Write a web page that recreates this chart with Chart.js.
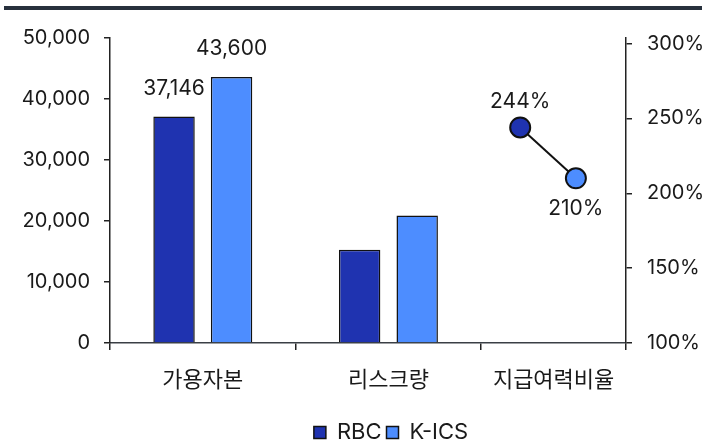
<!DOCTYPE html>
<html lang="ko">
<head>
<meta charset="utf-8">
<title>RBC vs K-ICS</title>
<script src="https://cdn.jsdelivr.net/npm/chart.js@4.4.1/dist/chart.umd.min.js"></script>
<style>
  html, body { margin: 0; padding: 0; background: #fff; }
  .wrap { position: relative; width: 706px; height: 441px; }
  .wrap canvas { position: absolute; left: 0; top: 0; }
  .rule { position: absolute; left: 4px; right: 4px; top: 6px; height: 4px; background: #28313d; }
</style>
</head>
<body>
<div class="wrap">
  <canvas id="solvency" width="706" height="441"></canvas>
  <div class="rule"></div>
</div>
<script>
// --- data -------------------------------------------------------------
const categories = ['가용자본', '리스크량', '지급여력비율'];
const seriesNames = ['RBC', 'K-ICS'];
const rbcAmounts = [37146, 15300];     // 가용자본, 리스크량
const kicsAmounts = [43600, 20900];
const solvencyRatios = [244, 210];     // RBC, K-ICS (%)
const amountTicks = [0, 10000, 20000, 30000, 40000, 50000];
const ratioTicks = [100, 150, 200, 250, 300];
const labelledAmounts = [0];           // only 가용자본 carries value labels

// --- look ---------------------------------------------------------------
const RBC_COLOR = '#1f33b0';
const KICS_COLOR = '#4d8dff';
const INK = '#1a1a1a';
const AXIS = '#222';
const FONT = "Inter, 'Noto Sans CJK KR', sans-serif";

Chart.defaults.font.family = FONT;
Chart.defaults.font.size = 20;
Chart.defaults.color = INK;

// the plot is a bit narrower than three categories: the ratio group is cut by the right axis
const X_MAX = 2.78;
const ratioCat = categories.indexOf('지급여력비율');
const ratioSlots = [0.21, 0.51];
const LEGEND_SHIFT = { x: 38, y: 14 };

const barData = values => values.map((v, i) => ({ x: i + 0.5, y: v }));

// small value-label plugin (no datalabels plugin available)
const valueLabels = {
    id: 'valueLabels',
    afterDatasetsDraw(chart) {
        const ctx = chart.ctx;
        ctx.save();
        ctx.font = '21px ' + FONT;
        ctx.fillStyle = INK;
        ctx.textAlign = 'center';
        ctx.textBaseline = 'middle';
        chart.data.datasets.forEach((ds, di) => {
            const lab = ds.valueLabel;
            if (!lab) return;
            chart.getDatasetMeta(di).data.forEach((el, i) => {
                if (!lab.show(i)) return;
                ctx.fillText(lab.format(ds.data[i].y), el.x, el.y + lab.offset(i));
            });
        });
        ctx.restore();
    }
};

// legend sits right of the page centre, close to the bottom edge
const legendShift = {
    id: 'legendShift',
    afterLayout(chart) {
        const lg = chart.legend;
        if (!lg) return;
        lg.left += LEGEND_SHIFT.x; lg.right += LEGEND_SHIFT.x;
        lg.top += LEGEND_SHIFT.y; lg.bottom += LEGEND_SHIFT.y;
    }
};

const amountLabel = {
    show: i => labelledAmounts.includes(i),
    format: v => v.toLocaleString('en-US'),
    offset: () => -28
};

const xCommon = { type: 'linear', position: 'bottom', min: 0, max: X_MAX, offset: false };

new Chart(document.getElementById('solvency').getContext('2d'), {
    type: 'bar',
    data: {
        datasets: [{
            label: seriesNames[0],
            data: barData(rbcAmounts),
            backgroundColor: RBC_COLOR,
            borderColor: '#111',
            borderWidth: 1.5,
            categoryPercentage: 0.62,
            barPercentage: 0.72,
            valueLabel: amountLabel
        }, {
            label: seriesNames[1],
            data: barData(kicsAmounts),
            backgroundColor: KICS_COLOR,
            borderColor: '#111',
            borderWidth: 1.5,
            categoryPercentage: 0.62,
            barPercentage: 0.72,
            valueLabel: amountLabel
        }, {
            type: 'line',
            label: '지급여력비율',
            yAxisID: 'y1',
            data: solvencyRatios.map((v, i) => ({ x: ratioCat + ratioSlots[i], y: v })),
            borderColor: '#111',
            borderWidth: 2,
            pointRadius: 10,
            pointHoverRadius: 10,
            pointBorderWidth: 2,
            pointBorderColor: '#111',
            pointBackgroundColor: [RBC_COLOR, KICS_COLOR],
            valueLabel: {
                show: () => true,
                format: v => v + '%',
                offset: i => (i === 0 ? -26 : 30)
            }
        }]
    },
    options: {
        responsive: false,
        animation: false,
        layout: { padding: { left: 0, right: 0, top: 38, bottom: 1.5 } },
        plugins: {
            legend: {
                position: 'bottom',
                labels: {
                    boxWidth: 12,
                    boxHeight: 12,
                    padding: 5,
                    color: INK,
                    font: { size: 22 },
                    filter: item => item.datasetIndex < 2
                }
            },
            tooltip: { enabled: false }
        },
        scales: {
            // data axis: no ticks of its own so bar widths follow the category spacing
            x: Object.assign({}, xCommon, {
                display: false,
                afterBuildTicks: s => { s.ticks = []; }
            }),
            xMarks: Object.assign({}, xCommon, {
                weight: 0,
                afterBuildTicks: s => { s.ticks = [0, 1, 2, X_MAX].map(v => ({ value: v })); },
                ticks: { display: false },
                grid: { offset: false, drawOnChartArea: false, tickLength: 7, color: AXIS, lineWidth: 1.5 },
                border: { color: '#3a3f45', width: 1.5 }
            }),
            xLabels: Object.assign({}, xCommon, {
                weight: 1,
                afterBuildTicks: s => {
                    s.ticks = [0.5, 1.5, (ratioCat + X_MAX) / 2].map(v => ({ value: v }));
                },
                ticks: {
                    autoSkip: false,
                    maxRotation: 0,
                    padding: 9,
                    color: INK,
                    font: { size: 22 },
                    callback: (v, i) => categories[i]
                },
                grid: { display: false, offset: false },
                border: { display: false }
            }),
            y: {
                position: 'left',
                min: 0,
                max: 50000,
                afterBuildTicks: s => { s.ticks = amountTicks.map(v => ({ value: v })); },
                afterFit: s => { s.width = 110; },
                ticks: {
                    padding: 14,
                    color: INK,
                    callback: v => v.toLocaleString('en-US')
                },
                grid: { drawOnChartArea: false, tickLength: 6, color: AXIS, lineWidth: 1.5 },
                border: { color: AXIS, width: 1.5 }
            },
            y1: {
                position: 'right',
                min: 100,
                max: 303.7,
                afterBuildTicks: s => { s.ticks = ratioTicks.map(v => ({ value: v })); },
                afterFit: s => { s.width = 80; },
                ticks: {
                    padding: 15,
                    color: INK,
                    callback: v => v + '%'
                },
                grid: { drawOnChartArea: false, tickLength: 6, color: AXIS, lineWidth: 1.5 },
                border: { color: AXIS, width: 1.5 }
            }
        }
    },
    plugins: [valueLabels, legendShift]
});
</script>
</body>
</html>
